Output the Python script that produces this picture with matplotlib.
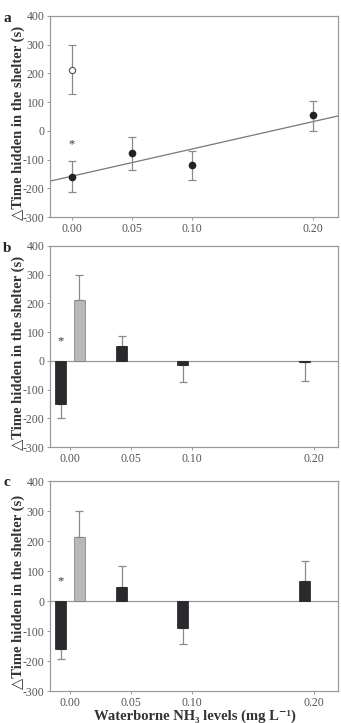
import matplotlib
matplotlib.use("Agg")
import matplotlib.pyplot as plt
import numpy as np

plt.rcParams['font.family'] = ['Liberation Serif', 'DejaVu Serif']
plt.rcParams['axes.unicode_minus'] = False

# ---- data ----
levels = [0.00, 0.05, 0.10, 0.20]
tick_labels = ["0.00", "0.05", "0.10", "0.20"]
y_ticks = [-300, -200, -100, 0, 100, 200, 300, 400]

# panel a
a_ctrl_mean = 212
a_ctrl_lo, a_ctrl_hi = 127, 298
a_means = [-160, -78, -120, 54]
a_lo = [-214, -137, -171, 1]
a_hi = [-105, -20, -71, 105]
fit_intercept = -158
fit_slope = 951

# panel b
b_means = [-150, 53, -14, -5]
b_err = [48, 34, 58, 64]
b_ctrl_mean = 213
b_ctrl_err = 86

# panel c
c_means = [-159, 47, -89, 67]
c_err = [33, 69, 55, 66]
c_ctrl_mean = 214
c_ctrl_err = 86

ylabel = "\u25b3Time hidden in the shelter (s)"
xlabel = "Waterborne NH\u2083 levels (mg L\u207b\u00b9)"

W, H = 341, 723
fig = plt.figure(figsize=(W / 100, H / 100), dpi=100)

def frame(top, bottom, left=50, right=338):
    return fig.add_axes([left / W, 1 - bottom / H, (right - left) / W, (bottom - top) / H])

ax_a = frame(16, 217)
ax_b = frame(246, 447)
ax_c = frame(481, 691)

spine_col = "#9a9a9a"
tick_col = "#555555"
err_col = "#8a8a8a"

def style(ax, xlim):
    ax.set_xlim(*xlim)
    ax.set_ylim(-300, 400)
    ax.set_yticks(y_ticks)
    ax.set_yticklabels([str(v) for v in y_ticks])
    ax.set_xticks(levels)
    ax.set_xticklabels(tick_labels)
    for s in ax.spines.values():
        s.set_color(spine_col)
        s.set_linewidth(0.9)
    ax.tick_params(length=2.5, width=0.7, color=spine_col, labelsize=8.5,
                   labelcolor=tick_col, pad=1.5)
    ax.tick_params(axis='x', pad=2)
    ax.set_ylabel(ylabel, fontsize=10.5, fontweight='bold', color="#333333",
                  va='center', ha='center')
    ax.yaxis.set_label_coords((18 - 50) / 288, 0.47)

# ---- panel a ----
style(ax_a, (-0.018, 0.2207))
xs = np.array(ax_a.get_xlim())
ax_a.plot(xs, fit_intercept + fit_slope * xs, color="#777777", lw=0.9, zorder=1)
a_means = np.array(a_means)
ax_a.errorbar(levels, a_means, yerr=[a_means - np.array(a_lo), np.array(a_hi) - a_means],
              fmt='o', color="#222222", ms=4.5, ecolor=err_col, elinewidth=0.9,
              capsize=3, capthick=0.9, zorder=3)
ax_a.errorbar([levels[0]], [a_ctrl_mean],
              yerr=[[a_ctrl_mean - a_ctrl_lo], [a_ctrl_hi - a_ctrl_mean]],
              fmt='o', mfc='white', mec="#555555", mew=0.8, ms=4.5, ecolor=err_col,
              elinewidth=0.9, capsize=3, capthick=0.9, zorder=3)
ax_a.text(levels[0], -48, "*", ha='center', va='center', fontsize=9, color="#333333")

# ---- bar panels ----
bw = 0.0093
off = 0.0076

def bars(ax, means, errs, cmean, cerr, star_y):
    style(ax, (-0.0164, 0.2197))
    ax.axhline(0, color=spine_col, lw=0.9, zorder=1)
    xb = np.array(levels) - off
    ax.bar(xb, means, width=bw, color="#2a2a2e", edgecolor="#1a1a1a", lw=0.5, zorder=2)
    for x, m, e in zip(xb, means, errs):
        sign = 1 if m >= 0 else -1
        ax.errorbar([x], [m], yerr=[[e if sign < 0 else 0], [e if sign > 0 else 0]],
                    fmt='none', ecolor=err_col, elinewidth=0.9, capsize=3, capthick=0.9,
                    zorder=1)
    ax.bar([levels[0] + off], [cmean], width=bw, color="#b8b8b8", edgecolor="#777777",
           lw=0.5, zorder=2)
    ax.errorbar([levels[0] + off], [cmean], yerr=[[0], [cerr]], fmt='none', ecolor=err_col,
                elinewidth=0.9, capsize=3, capthick=0.9, zorder=1)
    ax.text(levels[0] - off, star_y, "*", ha='center', va='center', fontsize=9,
            color="#333333")

bars(ax_b, b_means, b_err, b_ctrl_mean, b_ctrl_err, 68)
bars(ax_c, c_means, c_err, c_ctrl_mean, c_ctrl_err, 65)

fig.text(195 / W, 1 - 719.5 / H, xlabel, fontsize=10.5, fontweight='bold', color="#333333",
         ha='center', va='baseline')

for ax, letter, y in [(ax_a, "a", 18), (ax_b, "b", 248), (ax_c, "c", 482)]:
    fig.text(3 / W, 1 - y / H, letter, fontsize=11, fontweight='bold', va='center',
             ha='left', color="#222222")

fig.savefig("out.png", dpi=100)
